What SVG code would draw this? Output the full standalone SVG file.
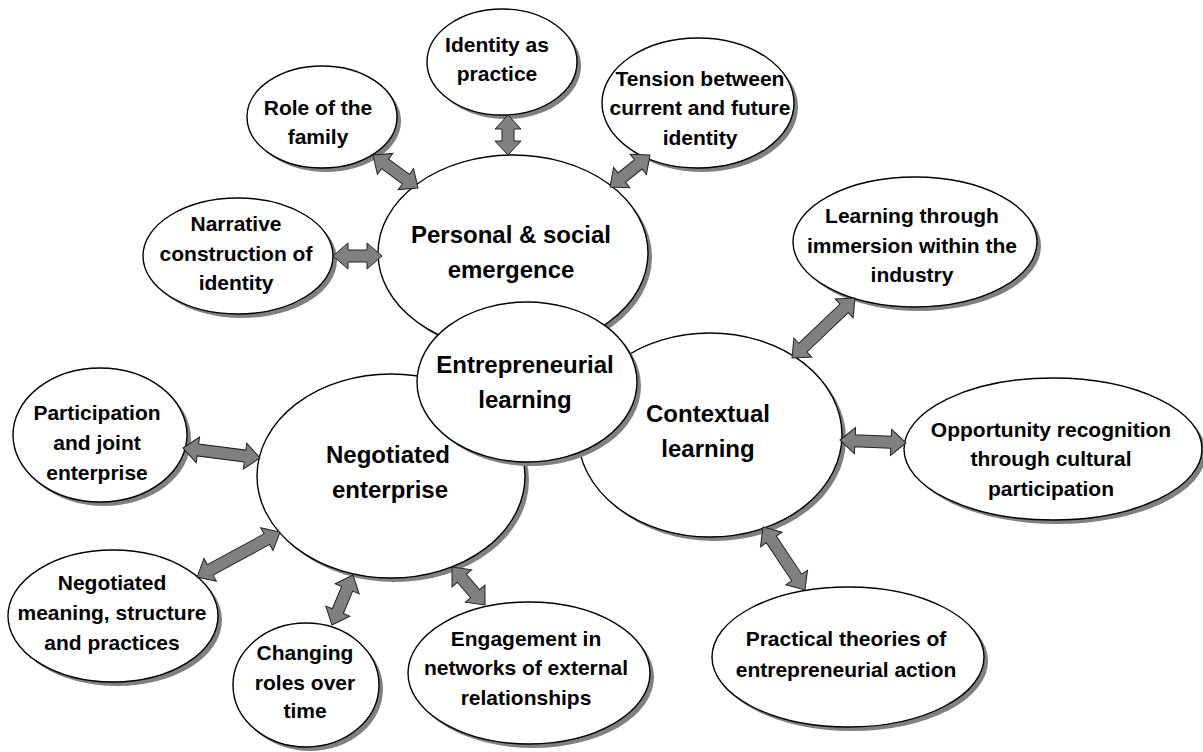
<svg xmlns="http://www.w3.org/2000/svg" width="1203" height="752" viewBox="0 0 1203 752">
<style>
.sh{fill:#808080;stroke:none}
.el{fill:#fff;stroke:#000;stroke-width:1.4}
.t{font-family:"Liberation Sans",Arial,sans-serif;font-weight:bold;font-size:21px;fill:#000;text-anchor:middle}
.T{font-family:"Liberation Sans",Arial,sans-serif;font-weight:bold;font-size:24px;fill:#000;text-anchor:middle}
.ar{fill:#808080;stroke:#222;stroke-width:1;stroke-linejoin:miter}
</style>
<rect width="1203" height="752" fill="#fff"/>
<g id="personal">
<ellipse class="sh" cx="517" cy="257" rx="135" ry="98"/>
<ellipse class="el" cx="513" cy="253" rx="135" ry="98"/>
<text class="T" x="511" y="243">Personal &amp; social</text>
<text class="T" x="511" y="278">emergence</text>
</g>
<g id="negotiated">
<ellipse class="sh" cx="395" cy="480" rx="134" ry="102"/>
<ellipse class="el" cx="391" cy="476" rx="134" ry="102"/>
<text class="T" x="388" y="463">Negotiated</text>
<text class="T" x="390" y="498">enterprise</text>
</g>
<g id="contextual">
<ellipse class="sh" cx="714" cy="439" rx="132" ry="102"/>
<ellipse class="el" cx="710" cy="435" rx="132" ry="102"/>
<text class="T" x="708" y="422">Contextual</text>
<text class="T" x="708" y="457">learning</text>
</g>
<g id="entrepreneurial">
<ellipse class="sh" cx="531" cy="386" rx="110" ry="80"/>
<ellipse class="el" cx="527" cy="382" rx="110" ry="80"/>
<text class="T" x="525" y="373">Entrepreneurial</text>
<text class="T" x="525" y="408">learning</text>
</g>
<g id="role">
<ellipse class="sh" cx="326" cy="121" rx="75" ry="51"/>
<ellipse class="el" cx="322" cy="117" rx="75" ry="51"/>
<text class="t" x="318" y="115">Role of the</text>
<text class="t" x="318" y="144">family</text>
</g>
<g id="narrative">
<ellipse class="sh" cx="242" cy="260" rx="95" ry="58"/>
<ellipse class="el" cx="238" cy="256" rx="95" ry="58"/>
<text class="t" x="236" y="231">Narrative</text>
<text class="t" x="236" y="261">construction of</text>
<text class="t" x="236" y="290">identity</text>
</g>
<g id="identity">
<ellipse class="sh" cx="506" cy="66" rx="75" ry="53"/>
<ellipse class="el" cx="502" cy="62" rx="75" ry="53"/>
<text class="t" x="497" y="52">Identity as</text>
<text class="t" x="497" y="81">practice</text>
</g>
<g id="tension">
<ellipse class="sh" cx="702" cy="107" rx="96" ry="65"/>
<ellipse class="el" cx="698" cy="103" rx="96" ry="65"/>
<text class="t" x="700" y="86">Tension between</text>
<text class="t" x="700" y="115">current and future</text>
<text class="t" x="700" y="145">identity</text>
</g>
<g id="immersion">
<ellipse class="sh" cx="919" cy="246" rx="122" ry="65"/>
<ellipse class="el" cx="915" cy="242" rx="122" ry="65"/>
<text class="t" x="912" y="223">Learning through</text>
<text class="t" x="912" y="253">immersion within the</text>
<text class="t" x="912" y="282">industry</text>
</g>
<g id="opportunity">
<ellipse class="sh" cx="1057" cy="453" rx="149" ry="71"/>
<ellipse class="el" cx="1053" cy="449" rx="149" ry="71"/>
<text class="t" x="1051" y="437">Opportunity recognition</text>
<text class="t" x="1051" y="466">through cultural</text>
<text class="t" x="1051" y="496">participation</text>
</g>
<g id="practical">
<ellipse class="sh" cx="852" cy="661" rx="136" ry="70"/>
<ellipse class="el" cx="848" cy="657" rx="136" ry="70"/>
<text class="t" x="846" y="646">Practical theories of</text>
<text class="t" x="846" y="677">entrepreneurial action</text>
</g>
<g id="engagement">
<ellipse class="sh" cx="533" cy="677" rx="121" ry="71"/>
<ellipse class="el" cx="529" cy="673" rx="121" ry="71"/>
<text class="t" x="526" y="646">Engagement in</text>
<text class="t" x="526" y="675">networks of external</text>
<text class="t" x="526" y="705">relationships</text>
</g>
<g id="changing">
<ellipse class="sh" cx="310" cy="689" rx="73" ry="62"/>
<ellipse class="el" cx="306" cy="685" rx="73" ry="62"/>
<text class="t" x="305" y="660">Changing</text>
<text class="t" x="305" y="690">roles over</text>
<text class="t" x="305" y="718">time</text>
</g>
<g id="meaning">
<ellipse class="sh" cx="117" cy="620" rx="105" ry="66"/>
<ellipse class="el" cx="113" cy="616" rx="105" ry="66"/>
<text class="t" x="112" y="590">Negotiated</text>
<text class="t" x="112" y="620">meaning, structure</text>
<text class="t" x="112" y="650">and practices</text>
</g>
<g id="participation">
<ellipse class="sh" cx="104" cy="439" rx="87" ry="67"/>
<ellipse class="el" cx="100" cy="435" rx="87" ry="67"/>
<text class="t" x="97" y="420">Participation</text>
<text class="t" x="97" y="450">and joint</text>
<text class="t" x="97" y="480">enterprise</text>
</g>
<g id="connectors">
<path class="ar" transform="translate(333,256) rotate(0)" d="M0,0 L15,-13 L15,-6 L34,-6 L34,-13 L49,0 L34,13 L34,6 L15,6 L15,13 Z"/>
<path class="ar" transform="translate(373,155) rotate(36.25)" d="M0,0 L15,-13 L15,-6 L40.8,-6 L40.8,-13 L55.8,0 L40.8,13 L40.8,6 L15,6 L15,13 Z"/>
<path class="ar" transform="translate(508,115) rotate(90)" d="M0,0 L14,-13 L14,-6 L26,-6 L26,-13 L40,0 L26,13 L26,6 L14,6 L14,13 Z"/>
<path class="ar" transform="translate(650,155) rotate(141.34)" d="M0,0 L15,-13 L15,-6 L36.2,-6 L36.2,-13 L51.2,0 L36.2,13 L36.2,6 L15,6 L15,13 Z"/>
<path class="ar" transform="translate(855,298) rotate(136.4)" d="M0,0 L15,-13 L15,-6 L72,-6 L72,-13 L87,0 L72,13 L72,6 L15,6 L15,13 Z"/>
<path class="ar" transform="translate(840,440) rotate(2.6)" d="M0,0 L15,-13 L15,-6 L51.1,-6 L51.1,-13 L66.1,0 L51.1,13 L51.1,6 L15,6 L15,13 Z"/>
<path class="ar" transform="translate(763,527) rotate(56.3)" d="M0,0 L15,-13 L15,-6 L60.7,-6 L60.7,-13 L75.7,0 L60.7,13 L60.7,6 L15,6 L15,13 Z"/>
<path class="ar" transform="translate(452,567) rotate(49)" d="M0,0 L15,-13 L15,-6 L35.3,-6 L35.3,-13 L50.3,0 L35.3,13 L35.3,6 L15,6 L15,13 Z"/>
<path class="ar" transform="translate(353,575) rotate(112.8)" d="M0,0 L15,-13 L15,-6 L39.2,-6 L39.2,-13 L54.2,0 L39.2,13 L39.2,6 L15,6 L15,13 Z"/>
<path class="ar" transform="translate(280,532) rotate(151.5)" d="M0,0 L15,-13 L15,-6 L79.4,-6 L79.4,-13 L94.4,0 L79.4,13 L79.4,6 L15,6 L15,13 Z"/>
<path class="ar" transform="translate(183,448) rotate(7.4)" d="M0,0 L15,-13 L15,-6 L62.6,-6 L62.6,-13 L77.6,0 L62.6,13 L62.6,6 L15,6 L15,13 Z"/>
</g>
</svg>
